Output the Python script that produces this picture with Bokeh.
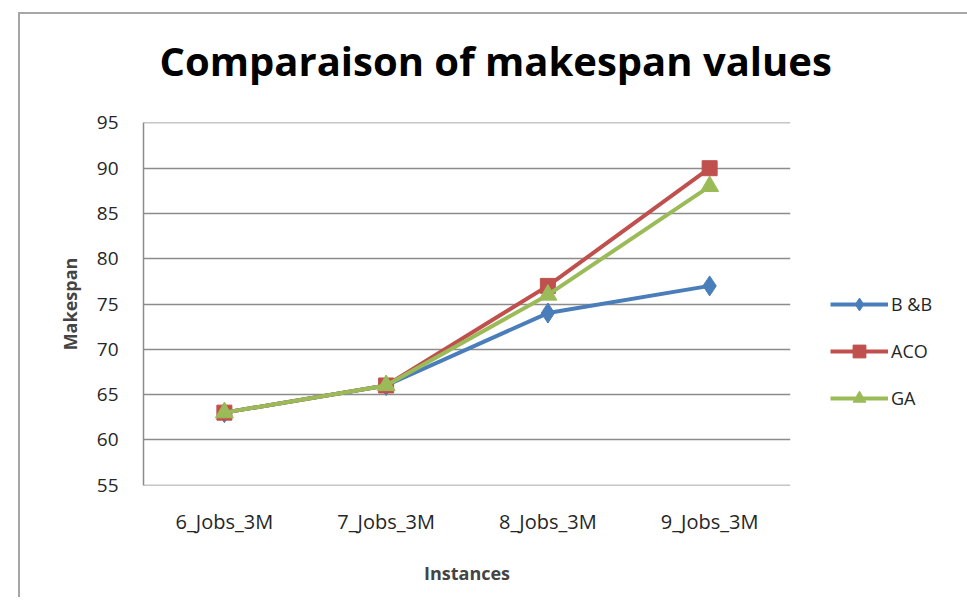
from bokeh.plotting import figure
from bokeh.models import Legend, LegendItem, Title, FactorRange, Range1d, FixedTicker
from bokeh.embed import file_html
from bokeh.resources import INLINE

instances = ["6_Jobs_3M", "7_Jobs_3M", "8_Jobs_3M", "9_Jobs_3M"]
bb = [63, 66, 74, 77]
aco = [63, 66, 77, 90]
ga = [63, 66, 76, 88]
y_ticks = [55, 60, 65, 70, 75, 80, 85, 90, 95]

FONT = "Open Sans"

p = figure(frame_width=647, frame_height=363, x_range=FactorRange(*instances, range_padding=0),
           y_range=Range1d(54.95, 95.05), output_backend="svg", toolbar_location=None,
           min_border_left=123, min_border_top=60, min_border_bottom=112,
           min_border_right=0)
p.margin = (12, 0, 0, 18)
p.styles = {"border-left": "2px solid #a6a6a6", "border-top": "2px solid #a6a6a6"}
p.outline_line_color = None
p.background_fill_color = "white"
p.border_fill_color = "white"

p.xgrid.grid_line_color = None
p.ygrid.grid_line_color = "#8c8c8c"
p.ygrid.grid_line_width = 1.5
p.yaxis.ticker = FixedTicker(ticks=y_ticks)

p.yaxis.axis_line_color = "#8c8c8c"
p.yaxis.axis_line_width = 1.5
p.yaxis.major_tick_line_color = None
p.yaxis.minor_tick_line_color = None
p.yaxis.major_label_standoff = 19
p.yaxis.major_label_text_font = FONT
p.yaxis.major_label_text_font_size = "19px"
p.yaxis.major_label_text_color = "#262626"
p.yaxis.axis_label = "Makespan"
p.yaxis.axis_label_text_font = FONT
p.yaxis.axis_label_text_font_style = "bold"
p.yaxis.axis_label_text_font_size = "18px"
p.yaxis.axis_label_standoff = 12

p.xaxis.axis_line_color = None
p.xaxis.major_tick_line_color = None
p.xaxis.minor_tick_line_color = None
p.xaxis.major_label_standoff = 16
p.xaxis.major_label_text_font = FONT
p.xaxis.major_label_text_font_size = "20px"
p.xaxis.major_label_text_color = "#262626"
p.xaxis.axis_label = "Instances"
p.xaxis.axis_label_text_font = FONT
p.xaxis.axis_label_text_font_style = "bold"
p.xaxis.axis_label_text_font_size = "18px"
p.xaxis.axis_label_standoff = 23

c_bb, c_aco, c_ga = "#4a7ebb", "#c0504d", "#9bbb59"

l1 = p.line(instances, bb, line_color=c_bb, line_width=4)
m1 = p.scatter(instances, bb, marker="diamond", size=20, fill_color=c_bb, line_color=c_bb)
l2 = p.line(instances, aco, line_color=c_aco, line_width=4)
m2 = p.scatter(instances, aco, marker="square", size=15, fill_color=c_aco, line_color=c_aco)
l3 = p.line(instances, ga, line_color=c_ga, line_width=4)
m3 = p.scatter(instances, ga, marker="triangle", size=18, fill_color=c_ga, line_color=c_ga)

legend = Legend(items=[LegendItem(label="B &B", renderers=[l1, m1]),
                       LegendItem(label="ACO", renderers=[l2, m2]),
                       LegendItem(label="GA", renderers=[l3, m3])],
                location=(40, 71), orientation="vertical",
                glyph_width=58, glyph_height=32, label_standoff=3, spacing=15,
                padding=0, margin=0, border_line_color=None, background_fill_alpha=0,
                label_text_font=FONT, label_text_font_size="18px", label_text_color="#262626")
p.add_layout(legend, "right")

# spacer between title and plot area (closest to the frame)
spacer = Title(text=" ", text_font=FONT, text_font_size="12px", standoff=0)
p.add_layout(spacer, "above")

title = Title(text="Comparaison of makespan values", align="left", offset=16, standoff=32,
              text_font=FONT, text_font_style="bold", text_font_size="40px", text_color="black")
p.add_layout(title, "above")

open("out.html", "w").write(file_html(p, INLINE))
